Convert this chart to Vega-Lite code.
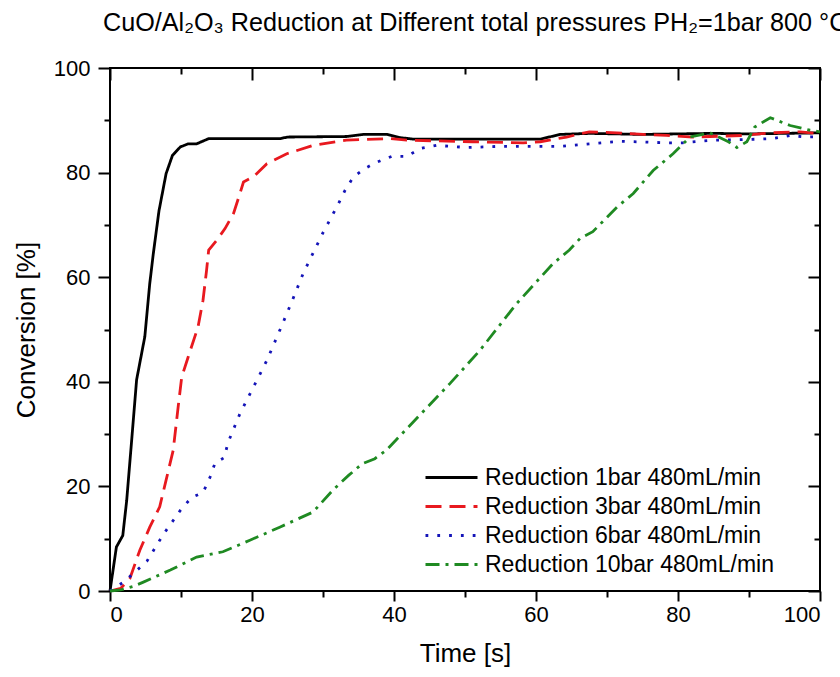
{
  "$schema": "https://vega.github.io/schema/vega-lite/v6.json",
  "width": 710,
  "height": 523,
  "autosize": {"type": "none"},
  "padding": {"left": 110, "top": 68, "right": 20, "bottom": 86},
  "background": "white",
  "config": {
    "font": "Liberation Sans",
    "view": {"stroke": "black", "strokeWidth": 2},
    "axis": {
      "grid": false,
      "domain": false,
      "tickColor": "black",
      "tickWidth": 2,
      "labelColor": "black",
      "labelFont": "Liberation Sans",
      "labelFontSize": 22,
      "titleColor": "black",
      "titleFont": "Liberation Sans",
      "titleFontSize": 26,
      "titleFontWeight": "normal"
    }
  },
  "title": {
    "text": "CuO/Al₂O₃ Reduction at Different total pressures PH₂=1bar 800 °C",
    "anchor": "start",
    "frame": "group",
    "dx": -7,
    "offset": 1,
    "baseline": "alphabetic",
    "font": "Liberation Sans",
    "fontSize": 25.2,
    "fontWeight": "normal",
    "color": "black"
  },
  "data": {
    "values": [
      {"series": "Reduction 1bar 480mL/min", "t": 0, "c": 0},
      {"series": "Reduction 1bar 480mL/min", "t": 0.9, "c": 8.4},
      {"series": "Reduction 1bar 480mL/min", "t": 1.8, "c": 10.6},
      {"series": "Reduction 1bar 480mL/min", "t": 2.35, "c": 17.3},
      {"series": "Reduction 1bar 480mL/min", "t": 2.85, "c": 25.5},
      {"series": "Reduction 1bar 480mL/min", "t": 3.75, "c": 40.4},
      {"series": "Reduction 1bar 480mL/min", "t": 4.9, "c": 48.6},
      {"series": "Reduction 1bar 480mL/min", "t": 5.6, "c": 58.8},
      {"series": "Reduction 1bar 480mL/min", "t": 6.1, "c": 64.5},
      {"series": "Reduction 1bar 480mL/min", "t": 6.9, "c": 72.7},
      {"series": "Reduction 1bar 480mL/min", "t": 7.9, "c": 79.8},
      {"series": "Reduction 1bar 480mL/min", "t": 8.8, "c": 83.3},
      {"series": "Reduction 1bar 480mL/min", "t": 9.9, "c": 84.9},
      {"series": "Reduction 1bar 480mL/min", "t": 11, "c": 85.5},
      {"series": "Reduction 1bar 480mL/min", "t": 12.2, "c": 85.5},
      {"series": "Reduction 1bar 480mL/min", "t": 13.9, "c": 86.5},
      {"series": "Reduction 1bar 480mL/min", "t": 24, "c": 86.5},
      {"series": "Reduction 1bar 480mL/min", "t": 25, "c": 86.8},
      {"series": "Reduction 1bar 480mL/min", "t": 33.3, "c": 86.9},
      {"series": "Reduction 1bar 480mL/min", "t": 35.7, "c": 87.3},
      {"series": "Reduction 1bar 480mL/min", "t": 39, "c": 87.3},
      {"series": "Reduction 1bar 480mL/min", "t": 40.8, "c": 86.7},
      {"series": "Reduction 1bar 480mL/min", "t": 42.7, "c": 86.4},
      {"series": "Reduction 1bar 480mL/min", "t": 60.6, "c": 86.4},
      {"series": "Reduction 1bar 480mL/min", "t": 63.4, "c": 87.3},
      {"series": "Reduction 1bar 480mL/min", "t": 67.6, "c": 87.5},
      {"series": "Reduction 1bar 480mL/min", "t": 75, "c": 87.3},
      {"series": "Reduction 1bar 480mL/min", "t": 85, "c": 87.5},
      {"series": "Reduction 1bar 480mL/min", "t": 90, "c": 87.4},
      {"series": "Reduction 1bar 480mL/min", "t": 95, "c": 87.5},
      {"series": "Reduction 1bar 480mL/min", "t": 100, "c": 87.6},

      {"series": "Reduction 3bar 480mL/min", "t": 0, "c": 0},
      {"series": "Reduction 3bar 480mL/min", "t": 1.5, "c": 0.5},
      {"series": "Reduction 3bar 480mL/min", "t": 2.8, "c": 2.4},
      {"series": "Reduction 3bar 480mL/min", "t": 4.2, "c": 7.8},
      {"series": "Reduction 3bar 480mL/min", "t": 5.6, "c": 12.2},
      {"series": "Reduction 3bar 480mL/min", "t": 7, "c": 16.1},
      {"series": "Reduction 3bar 480mL/min", "t": 7.9, "c": 21.2},
      {"series": "Reduction 3bar 480mL/min", "t": 8.9, "c": 26.9},
      {"series": "Reduction 3bar 480mL/min", "t": 9.6, "c": 35.2},
      {"series": "Reduction 3bar 480mL/min", "t": 10.1, "c": 40.9},
      {"series": "Reduction 3bar 480mL/min", "t": 11, "c": 44.7},
      {"series": "Reduction 3bar 480mL/min", "t": 12.4, "c": 50.5},
      {"series": "Reduction 3bar 480mL/min", "t": 13.1, "c": 55.6},
      {"series": "Reduction 3bar 480mL/min", "t": 13.6, "c": 61.3},
      {"series": "Reduction 3bar 480mL/min", "t": 13.9, "c": 65.2},
      {"series": "Reduction 3bar 480mL/min", "t": 15, "c": 67},
      {"series": "Reduction 3bar 480mL/min", "t": 16.2, "c": 69.3},
      {"series": "Reduction 3bar 480mL/min", "t": 17.4, "c": 72.2},
      {"series": "Reduction 3bar 480mL/min", "t": 18.3, "c": 76},
      {"series": "Reduction 3bar 480mL/min", "t": 18.8, "c": 78.2},
      {"series": "Reduction 3bar 480mL/min", "t": 20.2, "c": 79.2},
      {"series": "Reduction 3bar 480mL/min", "t": 22.1, "c": 81.7},
      {"series": "Reduction 3bar 480mL/min", "t": 24.9, "c": 83.6},
      {"series": "Reduction 3bar 480mL/min", "t": 28.6, "c": 85.2},
      {"series": "Reduction 3bar 480mL/min", "t": 33.3, "c": 86.2},
      {"series": "Reduction 3bar 480mL/min", "t": 39.4, "c": 86.5},
      {"series": "Reduction 3bar 480mL/min", "t": 41.8, "c": 86.2},
      {"series": "Reduction 3bar 480mL/min", "t": 51.1, "c": 85.9},
      {"series": "Reduction 3bar 480mL/min", "t": 58.2, "c": 85.7},
      {"series": "Reduction 3bar 480mL/min", "t": 60.6, "c": 85.9},
      {"series": "Reduction 3bar 480mL/min", "t": 64.3, "c": 86.8},
      {"series": "Reduction 3bar 480mL/min", "t": 67.5, "c": 87.8},
      {"series": "Reduction 3bar 480mL/min", "t": 71.4, "c": 87.6},
      {"series": "Reduction 3bar 480mL/min", "t": 75.1, "c": 87.3},
      {"series": "Reduction 3bar 480mL/min", "t": 78.4, "c": 87.1},
      {"series": "Reduction 3bar 480mL/min", "t": 82.1, "c": 86.8},
      {"series": "Reduction 3bar 480mL/min", "t": 89.2, "c": 87.1},
      {"series": "Reduction 3bar 480mL/min", "t": 93, "c": 87.6},
      {"series": "Reduction 3bar 480mL/min", "t": 97.2, "c": 87.8},
      {"series": "Reduction 3bar 480mL/min", "t": 100, "c": 87.4},

      {"series": "Reduction 6bar 480mL/min", "t": 0, "c": 0},
      {"series": "Reduction 6bar 480mL/min", "t": 1.9, "c": 1.7},
      {"series": "Reduction 6bar 480mL/min", "t": 3.5, "c": 3.6},
      {"series": "Reduction 6bar 480mL/min", "t": 5.2, "c": 5.7},
      {"series": "Reduction 6bar 480mL/min", "t": 7.5, "c": 10.8},
      {"series": "Reduction 6bar 480mL/min", "t": 9.9, "c": 15.4},
      {"series": "Reduction 6bar 480mL/min", "t": 11.5, "c": 17.9},
      {"series": "Reduction 6bar 480mL/min", "t": 13.1, "c": 18.8},
      {"series": "Reduction 6bar 480mL/min", "t": 14.1, "c": 21.8},
      {"series": "Reduction 6bar 480mL/min", "t": 14.8, "c": 24.5},
      {"series": "Reduction 6bar 480mL/min", "t": 16.1, "c": 25.5},
      {"series": "Reduction 6bar 480mL/min", "t": 16.6, "c": 28.3},
      {"series": "Reduction 6bar 480mL/min", "t": 18.3, "c": 33.9},
      {"series": "Reduction 6bar 480mL/min", "t": 20.2, "c": 39},
      {"series": "Reduction 6bar 480mL/min", "t": 22.1, "c": 44.1},
      {"series": "Reduction 6bar 480mL/min", "t": 23.9, "c": 49.8},
      {"series": "Reduction 6bar 480mL/min", "t": 25.6, "c": 55.3},
      {"series": "Reduction 6bar 480mL/min", "t": 27.2, "c": 60.7},
      {"series": "Reduction 6bar 480mL/min", "t": 28.2, "c": 63.5},
      {"series": "Reduction 6bar 480mL/min", "t": 30, "c": 68.5},
      {"series": "Reduction 6bar 480mL/min", "t": 32.2, "c": 74.1},
      {"series": "Reduction 6bar 480mL/min", "t": 33.1, "c": 76.6},
      {"series": "Reduction 6bar 480mL/min", "t": 34.3, "c": 79.2},
      {"series": "Reduction 6bar 480mL/min", "t": 35.9, "c": 80.8},
      {"series": "Reduction 6bar 480mL/min", "t": 37.6, "c": 82},
      {"series": "Reduction 6bar 480mL/min", "t": 39.7, "c": 83.1},
      {"series": "Reduction 6bar 480mL/min", "t": 41.8, "c": 83.1},
      {"series": "Reduction 6bar 480mL/min", "t": 43.7, "c": 84.6},
      {"series": "Reduction 6bar 480mL/min", "t": 46, "c": 85.2},
      {"series": "Reduction 6bar 480mL/min", "t": 50.3, "c": 84.8},
      {"series": "Reduction 6bar 480mL/min", "t": 54.5, "c": 85},
      {"series": "Reduction 6bar 480mL/min", "t": 59.2, "c": 85},
      {"series": "Reduction 6bar 480mL/min", "t": 63.4, "c": 85},
      {"series": "Reduction 6bar 480mL/min", "t": 67.6, "c": 85.5},
      {"series": "Reduction 6bar 480mL/min", "t": 71.8, "c": 86},
      {"series": "Reduction 6bar 480mL/min", "t": 78.4, "c": 85.7},
      {"series": "Reduction 6bar 480mL/min", "t": 80.7, "c": 85.7},
      {"series": "Reduction 6bar 480mL/min", "t": 85, "c": 86.2},
      {"series": "Reduction 6bar 480mL/min", "t": 89.2, "c": 86.3},
      {"series": "Reduction 6bar 480mL/min", "t": 93.4, "c": 86.5},
      {"series": "Reduction 6bar 480mL/min", "t": 95.8, "c": 87.1},
      {"series": "Reduction 6bar 480mL/min", "t": 98.1, "c": 86.8},
      {"series": "Reduction 6bar 480mL/min", "t": 100, "c": 86.9},

      {"series": "Reduction 10bar 480mL/min", "t": 0, "c": 0},
      {"series": "Reduction 10bar 480mL/min", "t": 1.5, "c": 0.2},
      {"series": "Reduction 10bar 480mL/min", "t": 3.3, "c": 0.9},
      {"series": "Reduction 10bar 480mL/min", "t": 4.7, "c": 1.7},
      {"series": "Reduction 10bar 480mL/min", "t": 8.5, "c": 4},
      {"series": "Reduction 10bar 480mL/min", "t": 12.2, "c": 6.5},
      {"series": "Reduction 10bar 480mL/min", "t": 15.9, "c": 7.5},
      {"series": "Reduction 10bar 480mL/min", "t": 19.7, "c": 9.7},
      {"series": "Reduction 10bar 480mL/min", "t": 23.9, "c": 12.2},
      {"series": "Reduction 10bar 480mL/min", "t": 28.6, "c": 15.1},
      {"series": "Reduction 10bar 480mL/min", "t": 31.4, "c": 19.3},
      {"series": "Reduction 10bar 480mL/min", "t": 33.6, "c": 22.1},
      {"series": "Reduction 10bar 480mL/min", "t": 35.5, "c": 24.3},
      {"series": "Reduction 10bar 480mL/min", "t": 37.3, "c": 25.3},
      {"series": "Reduction 10bar 480mL/min", "t": 38.9, "c": 26.9},
      {"series": "Reduction 10bar 480mL/min", "t": 47.9, "c": 39.7},
      {"series": "Reduction 10bar 480mL/min", "t": 52.1, "c": 46},
      {"series": "Reduction 10bar 480mL/min", "t": 57.3, "c": 55},
      {"series": "Reduction 10bar 480mL/min", "t": 62.4, "c": 62.6},
      {"series": "Reduction 10bar 480mL/min", "t": 64.7, "c": 65.2},
      {"series": "Reduction 10bar 480mL/min", "t": 66.2, "c": 67.4},
      {"series": "Reduction 10bar 480mL/min", "t": 68, "c": 68.7},
      {"series": "Reduction 10bar 480mL/min", "t": 71.4, "c": 73.4},
      {"series": "Reduction 10bar 480mL/min", "t": 73.7, "c": 76},
      {"series": "Reduction 10bar 480mL/min", "t": 76.5, "c": 80.4},
      {"series": "Reduction 10bar 480mL/min", "t": 79.3, "c": 83.6},
      {"series": "Reduction 10bar 480mL/min", "t": 81.7, "c": 86.8},
      {"series": "Reduction 10bar 480mL/min", "t": 84.5, "c": 87.6},
      {"series": "Reduction 10bar 480mL/min", "t": 87.1, "c": 85.9},
      {"series": "Reduction 10bar 480mL/min", "t": 88.3, "c": 84.8},
      {"series": "Reduction 10bar 480mL/min", "t": 89.7, "c": 85.9},
      {"series": "Reduction 10bar 480mL/min", "t": 90.8, "c": 88.7},
      {"series": "Reduction 10bar 480mL/min", "t": 93, "c": 90.5},
      {"series": "Reduction 10bar 480mL/min", "t": 95.8, "c": 89},
      {"series": "Reduction 10bar 480mL/min", "t": 98.6, "c": 88.1},
      {"series": "Reduction 10bar 480mL/min", "t": 100, "c": 87.8}
    ]
  },
  "layer": [
    {
      "mark": {"type": "line", "strokeWidth": 2.8},
      "encoding": {
        "x": {
          "field": "t", "type": "quantitative",
          "scale": {"domain": [0, 100], "nice": false},
          "axis": {"orient": "bottom", "values": [0, 20, 40, 60, 80, 100], "tickSize": 10, "labelPadding": 3, "title": "Time [s]", "titlePadding": 15}
        },
        "y": {
          "field": "c", "type": "quantitative",
          "scale": {"domain": [0, 100], "nice": false},
          "axis": {"orient": "left", "values": [0, 20, 40, 60, 80, 100], "tickSize": 12, "labelPadding": 8, "title": "Conversion [%]", "titlePadding": 14}
        },
        "color": {
          "field": "series", "type": "nominal",
          "scale": {
            "domain": ["Reduction 1bar 480mL/min", "Reduction 3bar 480mL/min", "Reduction 6bar 480mL/min", "Reduction 10bar 480mL/min"],
            "range": ["#000000", "#e8191f", "#1414b8", "#1f8a22"]
          },
          "legend": {
            "orient": "none", "legendX": 330, "legendY": 398, "title": null, "padding": 0,
            "labelFont": "Liberation Sans", "labelFontSize": 23, "labelColor": "black", "labelLimit": 400,
            "labelOffset": 22, "rowPadding": 5,
            "symbolType": "M-2.6,0H2.6", "symbolSize": 400, "symbolStrokeWidth": 2.8
          }
        },
        "strokeDash": {
          "field": "series", "type": "nominal",
          "scale": {
            "domain": ["Reduction 1bar 480mL/min", "Reduction 3bar 480mL/min", "Reduction 6bar 480mL/min", "Reduction 10bar 480mL/min"],
            "range": [[1, 0], [16, 8], [2.8, 9], [14, 6, 3, 6]]
          },
          "legend": {
            "orient": "none", "legendX": 330, "legendY": 398, "title": null, "padding": 0,
            "labelFont": "Liberation Sans", "labelFontSize": 23, "labelColor": "black", "labelLimit": 400,
            "labelOffset": 22, "rowPadding": 5,
            "symbolType": "M-2.6,0H2.6", "symbolSize": 400, "symbolStrokeWidth": 2.8
          }
        }
      }
    },
    {
      "mark": {"type": "point", "opacity": 0},
      "encoding": {
        "x": {"field": "t", "type": "quantitative", "axis": {"orient": "bottom", "values": [10, 30, 50, 70, 90], "tickSize": 6, "labels": false, "title": null}},
        "y": {"field": "c", "type": "quantitative", "axis": {"orient": "left", "values": [10, 30, 50, 70, 90], "tickSize": 6, "labels": false, "title": null}}
      }
    },
    {
      "mark": {"type": "point", "opacity": 0},
      "encoding": {
        "x": {"field": "t", "type": "quantitative", "axis": {"orient": "top", "values": [0, 20, 40, 60, 80, 100], "tickSize": -12, "labels": false, "title": null}},
        "y": {"field": "c", "type": "quantitative", "axis": {"orient": "right", "values": [0, 20, 40, 60, 80, 100], "tickSize": -12, "labels": false, "title": null}}
      }
    },
    {
      "mark": {"type": "point", "opacity": 0},
      "encoding": {
        "x": {"field": "t", "type": "quantitative", "axis": {"orient": "top", "values": [10, 30, 50, 70, 90], "tickSize": -6, "labels": false, "title": null}},
        "y": {"field": "c", "type": "quantitative", "axis": {"orient": "right", "values": [10, 30, 50, 70, 90], "tickSize": -6, "labels": false, "title": null}}
      }
    }
  ],
  "resolve": {"axis": {"x": "independent", "y": "independent"}}
}
